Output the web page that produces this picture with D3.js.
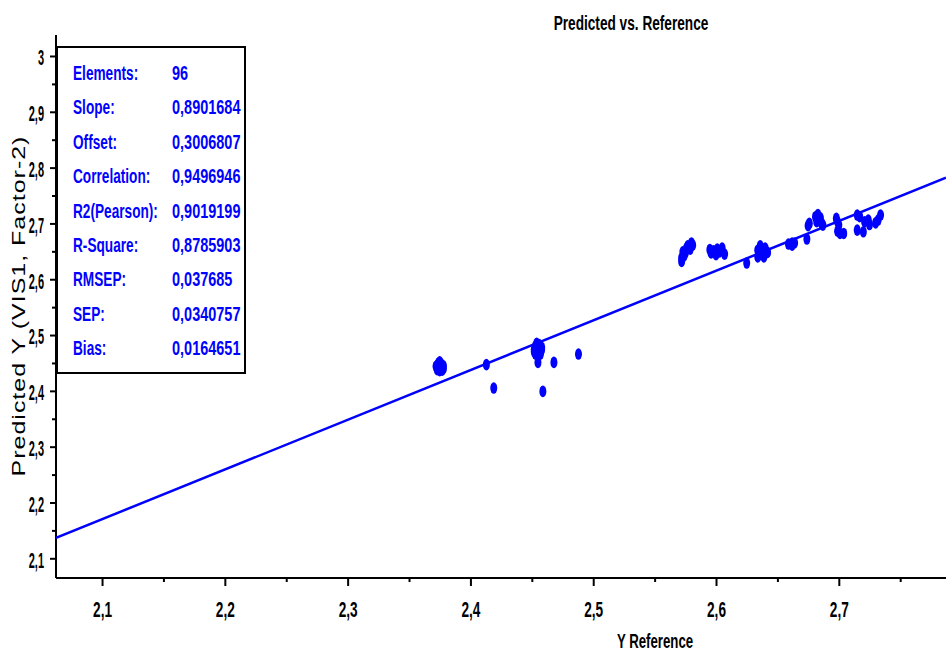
<!DOCTYPE html>
<meta charset="utf-8">
<style>
body { margin: 0; background: #fff; }
svg text { font-family: "Liberation Sans", Arial, sans-serif; }
.axis path, .axis line { stroke: #000; stroke-width: 2px; }
</style>
<body>
<svg width="946" height="656"></svg>
<script src="https://cdn.jsdelivr.net/npm/d3@7"></script>
<script>

// Y Reference / Predicted Y pairs (96 elements)
var refValues = [
  2.372, 2.373, 2.374, 2.375, 2.376, 2.377, 2.378, 2.373, 2.375, 2.377, 2.374, 2.376, 2.375, 2.378,
  2.413, 2.419,
  2.452, 2.453, 2.454, 2.455, 2.456, 2.457, 2.458, 2.453, 2.455, 2.457, 2.454, 2.456, 2.452, 2.458, 2.455, 2.456, 2.455,
  2.459, 2.468, 2.488,
  2.572, 2.574, 2.576, 2.580, 2.577, 2.573, 2.579, 2.572, 2.581, 2.575,
  2.596, 2.598, 2.600, 2.595, 2.603, 2.605, 2.607, 2.601,
  2.625, 2.634,
  2.634, 2.636, 2.638, 2.640, 2.642, 2.635, 2.637, 2.639, 2.641, 2.636,
  2.662, 2.659, 2.664, 2.662,
  2.674, 2.676, 2.675,
  2.681, 2.683, 2.684, 2.686, 2.682, 2.687, 2.685,
  2.698, 2.699, 2.700, 2.701, 2.699, 2.704,
  2.715, 2.715, 2.720, 2.724, 2.732, 2.734, 2.717, 2.721, 2.725, 2.730
];
var predValues = [
  2.444, 2.438, 2.450, 2.452, 2.447, 2.442, 2.440, 2.446, 2.436, 2.437, 2.441, 2.449, 2.443, 2.445,
  2.447, 2.405,
  2.474, 2.480, 2.468, 2.476, 2.483, 2.470, 2.478, 2.466, 2.472, 2.466, 2.485, 2.479, 2.470, 2.474, 2.462, 2.469, 2.451,
  2.399, 2.451, 2.466,
  2.632, 2.642, 2.656, 2.665, 2.660, 2.649, 2.654, 2.638, 2.661, 2.647,
  2.647, 2.651, 2.644, 2.653, 2.649, 2.656, 2.645, 2.654,
  2.629, 2.640,
  2.652, 2.660, 2.645, 2.656, 2.648, 2.643, 2.654, 2.640, 2.650, 2.647,
  2.665, 2.663, 2.665, 2.661,
  2.672, 2.700, 2.696,
  2.712, 2.716, 2.706, 2.700, 2.703, 2.697, 2.710,
  2.709, 2.703, 2.697, 2.682, 2.686, 2.682,
  2.715, 2.688, 2.685, 2.706, 2.706, 2.715, 2.712, 2.703, 2.698, 2.701
];

var slope = 0.8901684,
    offset = 0.3006807;

var statLabels = ["Elements:", "Slope:", "Offset:", "Correlation:", "R2(Pearson):", "R-Square:", "RMSEP:", "SEP:", "Bias:"];
var statValues = ["96", "0,8901684", "0,3006807", "0,9496946", "0,9019199", "0,8785903", "0,037685", "0,0340757", "0,0164651"];

var xTicks = [2.1, 2.2, 2.3, 2.4, 2.5, 2.6, 2.7];
var xMinor = [2.15, 2.25, 2.35, 2.45, 2.55, 2.65, 2.75];
var yTicks = [2.1, 2.2, 2.3, 2.4, 2.5, 2.6, 2.7, 2.8, 2.9, 3];
var yMinor = [2.15, 2.25, 2.35, 2.45, 2.55, 2.65, 2.75, 2.85, 2.95];

var svg = d3.select("svg"),
    width = +svg.attr("width"),
    height = +svg.attr("height");

var plotLeft = 56, plotRight = 946, plotTop = 35, plotBottom = 578;

var x = d3.scaleLinear()
    .domain([2.0625, 2.7873])
    .range([plotLeft, plotRight]);

var y = d3.scaleLinear()
    .domain([2.0647, 3.0376])
    .range([plotBottom, plotTop]);

var blue = "#0000ff";

function fmt(v) { return d3.format("~g")(v).replace(".", ","); }

// minor ticks first
svg.append("g")
    .attr("class", "axis")
    .attr("transform", "translate(" + plotLeft + ",0)")
    .call(d3.axisLeft(y).tickValues(yMinor).tickSize(4).tickFormat(""))
    .select(".domain").remove();

svg.append("g")
    .attr("class", "axis")
    .attr("transform", "translate(0," + plotBottom + ")")
    .call(d3.axisBottom(x).tickValues(xMinor).tickSize(4).tickFormat(""))
    .select(".domain").remove();

// major y axis
var yAxis = svg.append("g")
    .attr("class", "axis")
    .attr("transform", "translate(" + plotLeft + ",0)")
    .call(d3.axisLeft(y).tickValues(yTicks).tickSize(6).tickSizeOuter(0).tickFormat(fmt));
yAxis.select(".domain").attr("d", "M0," + plotTop + "V" + plotBottom);
yAxis.selectAll(".tick text")
    .attr("font-size", 22)
    .attr("font-weight", "bold")
    .attr("fill", "#000")
    .attr("x", -12 / 0.5)
    .attr("dy", "0.4em")
    .attr("transform", "scale(0.5,1)");

// major x axis
var xAxis = svg.append("g")
    .attr("class", "axis")
    .attr("transform", "translate(0," + plotBottom + ")")
    .call(d3.axisBottom(x).tickValues(xTicks).tickSize(8).tickSizeOuter(0).tickFormat(fmt));
xAxis.select(".domain").attr("d", "M" + plotLeft + ",0H" + plotRight);
xAxis.selectAll(".tick text")
    .attr("font-size", 22)
    .attr("font-weight", "bold")
    .attr("fill", "#000")
    .attr("y", 39)
    .attr("dy", 0)
    .attr("transform", "scale(0.62,1)");

// regression line
svg.append("clipPath").attr("id", "plot")
  .append("rect")
    .attr("x", plotLeft).attr("y", plotTop)
    .attr("width", plotRight - plotLeft).attr("height", plotBottom - plotTop);

var xd = x.domain();
svg.append("line")
    .attr("clip-path", "url(#plot)")
    .attr("x1", x(xd[0])).attr("y1", y(slope * xd[0] + offset))
    .attr("x2", x(xd[1])).attr("y2", y(slope * xd[1] + offset))
    .attr("stroke", blue)
    .attr("stroke-width", 2.5);

// points
svg.append("g")
  .selectAll("ellipse")
  .data(d3.range(refValues.length))
  .enter().append("ellipse")
    .attr("cx", function(i) { return x(refValues[i]); })
    .attr("cy", function(i) { return y(predValues[i]); })
    .attr("rx", 3.5)
    .attr("ry", 5.8)
    .attr("fill", blue);

// stats box
var box = svg.append("g");
box.append("rect")
    .attr("x", 57).attr("y", 47)
    .attr("width", 188).attr("height", 326)
    .attr("fill", "#fff")
    .attr("stroke", "#000")
    .attr("stroke-width", 2);

var rows = box.selectAll("g.row")
  .data(statLabels)
  .enter().append("g")
    .attr("class", "row")
    .attr("transform", function(d, i) { return "translate(0," + (80 + i * 34.4) + ")"; });

rows.append("text")
    .attr("transform", "translate(73,0) scale(0.65,1)")
    .attr("font-size", 21)
    .attr("font-weight", "bold")
    .attr("fill", blue)
    .text(function(d) { return d; });

rows.append("text")
    .attr("transform", "translate(172,0) scale(0.69,1)")
    .attr("font-size", 21)
    .attr("font-weight", "bold")
    .attr("fill", blue)
    .text(function(d, i) { return statValues[i]; });

// titles
svg.append("text")
    .attr("transform", "translate(631,30) scale(0.65,1)")
    .attr("text-anchor", "middle")
    .attr("font-size", 21)
    .attr("font-weight", "bold")
    .text("Predicted vs. Reference");

svg.append("text")
    .attr("transform", "translate(655,648) scale(0.63,1)")
    .attr("text-anchor", "middle")
    .attr("font-size", 21)
    .attr("font-weight", "bold")
    .text("Y Reference");

svg.append("text")
    .attr("transform", "translate(25,306) scale(0.7,1) rotate(-90)")
    .attr("text-anchor", "middle")
    .attr("font-size", 25)
    .attr("letter-spacing", 1)
    .text("Predicted Y (VIS1, Factor-2)");

</script>
</body>
